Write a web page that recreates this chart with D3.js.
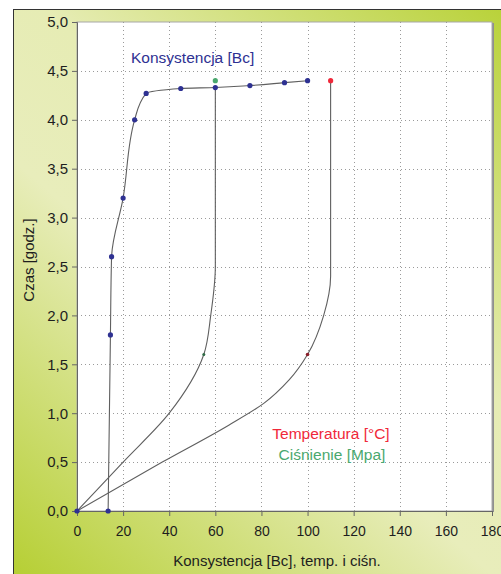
<!DOCTYPE html>
<html>
<head>
<meta charset="utf-8">
<script src="https://cdnjs.cloudflare.com/ajax/libs/d3/7.8.5/d3.min.js"></script>
<style>
body{margin:0;background:#fff;}
svg text{font-family:"Liberation Sans",Arial,sans-serif;}
</style>
</head>
<body>
<div id="wrapper"></div>
<script>
// values (x = Bc / °C / MPa, y = hours)
var consistency = [[13.5,0],[14.5,1.8],[15,2.6],[20,3.2],[25,4.0],[30,4.27],[45,4.32],[60,4.33],[75,4.35],[90,4.38],[100,4.4]];
var temperature = [[0,0],[37,0.5],[66,0.88],[81,1.1],[92,1.34],[100,1.6],[107,2.0],[110,2.4],[110,4.4]];
var pressure = [[0,0],[20,0.5],[40,1.0],[55,1.6],[58,2.0],[60,2.5],[60,4.33]];
var originMark = [[0,0]];
var temperatureMarks = [[100,1.6]];
var pressureMarks = [[55,1.6]];
var temperatureEnd = [[110,4.4]];
var pressureEnd = [[60,4.4]];
var xTicks = [0,20,40,60,80,100,120,140,160,180];
var yTicks = [0,0.5,1,1.5,2,2.5,3,3.5,4,4.5,5];
var seriesLabels = ["Konsystencja [Bc]","Temperatura [°C]","Ciśnienie [Mpa]"];
var xTitle = "Konsystencja [Bc], temp. i ciśn.";
var yTitle = "Czas [godz.]";

function build(){
    var dimension = {
        width: 501,
        height: 574,
        margin: {
            top: 22,
            left: 77,
            bottom: 63,
            right: 9
        }
    }
    dimension.boundedWidth = dimension.width - dimension.margin.left - dimension.margin.right;
    dimension.boundedHeight = dimension.height - dimension.margin.top - dimension.margin.bottom;

    var colors = {blue: "#2e3192", red: "#f0283a", green: "#4aa86e", line: "#5f5f5f"};
    var plFormat = d3.formatLocale({decimal: ",", thousands: " ", grouping: [3], currency: ["", " zł"]}).format(".1f");

    const svg = d3.select("#wrapper")
        .append("svg")
        .attr("width", dimension.width)
        .attr("height", dimension.height)

    var grad = svg.append("defs").append("linearGradient")
        .attr("id", "bg")
        .attr("gradientUnits", "userSpaceOnUse")
        .attr("x1", 13).attr("y1", 574).attr("x2", 501).attr("y2", 9);
    grad.append("stop").attr("offset", 0).attr("stop-color", "#b6cf34");
    grad.append("stop").attr("offset", 0.42).attr("stop-color", "#e8edbb");
    grad.append("stop").attr("offset", 0.6).attr("stop-color", "#e6ecb4");
    grad.append("stop").attr("offset", 1).attr("stop-color", "#b9d23a");

    svg.append("rect")
        .attr("x", 13.5).attr("y", 9.5)
        .attr("width", 520).attr("height", 600)
        .attr("fill", "url(#bg)")
        .attr("stroke", "#333");

    const bounded = svg.append("g")
        .attr("transform", `translate(${dimension.margin.left}, ${dimension.margin.top})`);

    const xScaler = d3.scaleLinear()
        .domain([0, 180])
        .range([0, dimension.boundedWidth]);
    const yScaler = d3.scaleLinear()
        .domain([0, 5])
        .range([dimension.boundedHeight, 0]);

    // plot area with its small shadow
    bounded.append("rect")
        .attr("x", 2).attr("y", 1)
        .attr("width", dimension.boundedWidth).attr("height", dimension.boundedHeight)
        .attr("fill", "#8f8f8f");
    bounded.append("rect")
        .attr("width", dimension.boundedWidth).attr("height", dimension.boundedHeight)
        .attr("fill", "#fff")
        .attr("stroke", "#a8a8a8");

    // dotted grid
    bounded.append("g")
        .selectAll("line")
        .data(xTicks.slice(1, -1))
        .enter()
        .append("line")
        .attr("x1", d => Math.round(xScaler(d)) + 0.5).attr("x2", d => Math.round(xScaler(d)) + 0.5)
        .attr("y1", 0).attr("y2", dimension.boundedHeight)
        .attr("stroke", "#9a9a9a")
        .attr("stroke-dasharray", "1,3");
    bounded.append("g")
        .selectAll("line")
        .data(yTicks.slice(1, -1))
        .enter()
        .append("line")
        .attr("y1", d => Math.round(yScaler(d)) + 0.5).attr("y2", d => Math.round(yScaler(d)) + 0.5)
        .attr("x1", 0).attr("x2", dimension.boundedWidth)
        .attr("stroke", "#9a9a9a")
        .attr("stroke-dasharray", "1,3");

    const yAxisGenerator = d3.axisLeft()
        .scale(yScaler)
        .tickValues(yTicks)
        .tickFormat(plFormat)
        .tickSizeOuter(0)
        .tickSize(5)
        .tickPadding(4);
    const xAxisGenerator = d3.axisBottom()
        .scale(xScaler)
        .tickValues(xTicks)
        .tickSizeOuter(0)
        .tickSize(5)
        .tickPadding(10);

    var yAxis = bounded.append("g")
        .call(yAxisGenerator);
    var xAxis = bounded.append("g")
        .attr("transform", `translate(0, ${dimension.boundedHeight})`)
        .call(xAxisGenerator);
    [xAxis, yAxis].forEach(function(ax){
        ax.select(".domain").attr("stroke", "#666");
        ax.selectAll(".tick line").attr("stroke", "#666");
        ax.selectAll(".tick text")
            .attr("fill", "#1e1e1e")
            .style("font-size", "14px")
            .style("font-family", "'Liberation Sans', Arial, sans-serif");
    });
    yAxis.selectAll(".tick text").style("font-size", "15px");

    // lines (x as a smooth function of time)
    var lineGenerator = d3.line()
        .x(d => xScaler(d[0]))
        .y(d => yScaler(d[1]))
        .curve(d3.curveMonotoneY);

    var lines = bounded.append("g");
    [pressure, temperature, consistency].forEach(function(series){
        lines.append("path")
            .datum(series)
            .attr("d", lineGenerator)
            .attr("fill", "none")
            .attr("stroke", colors.line)
            .attr("stroke-width", 1.1);
    });

    // markers
    var marks = bounded.append("g");
    function addMarks(data, r, fill){
        marks.selectAll(null)
            .data(data)
            .enter()
            .append("circle")
            .attr("r", r)
            .attr("cx", d => xScaler(d[0]))
            .attr("cy", d => yScaler(d[1]))
            .style("fill", fill);
    }
    addMarks(originMark, 2.6, colors.blue);
    addMarks(consistency, 2.6, colors.blue);
    addMarks(temperatureMarks, 1.8, "#8a1f2a");
    addMarks(pressureMarks, 1.5, "#2f6b45");
    addMarks(temperatureEnd, 2.6, colors.red);
    addMarks(pressureEnd, 2.6, colors.green);

    // series labels
    svg.append("text")
        .attr("x", 131).attr("y", 63)
        .attr("fill", colors.blue)
        .style("font-size", "15.5px")
        .text(seriesLabels[0]);
    svg.append("text")
        .attr("x", 331).attr("y", 439)
        .attr("text-anchor", "middle")
        .attr("fill", colors.red)
        .style("font-size", "15.5px")
        .text(seriesLabels[1]);
    svg.append("text")
        .attr("x", 332).attr("y", 460)
        .attr("text-anchor", "middle")
        .attr("fill", colors.green)
        .style("font-size", "15.5px")
        .text(seriesLabels[2]);

    // axis titles
    svg.append("text")
        .attr("x", 277).attr("y", 566)
        .attr("text-anchor", "middle")
        .attr("fill", "#1e1e1e")
        .style("font-size", "15px")
        .text(xTitle);
    svg.append("text")
        .attr("transform", "translate(34, 260) rotate(-90)")
        .attr("text-anchor", "middle")
        .attr("fill", "#1e1e1e")
        .style("font-size", "15px")
        .text(yTitle);
}

build()
</script>
</body>
</html>
